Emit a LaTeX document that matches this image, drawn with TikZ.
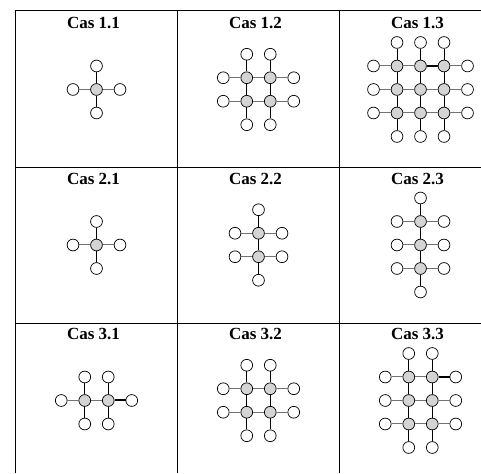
\documentclass[tikz,border=0pt]{standalone}
\usepackage{fontspec}
\setmainfont{Liberation Serif}
\usetikzlibrary{positioning}

\newcommand{\pas}{23.5}
% #1 prefix, #2 x, #3 y, #4 columns, #5 rows
\newcommand{\casgrid}[5]{%
  \foreach \i in {1,...,#4}
    \foreach \j in {1,...,#5}
      \node[hub] (#1c\i\j) at ({#2+(\i-(#4+1)/2)*\pas},{#3-(\j-(#5+1)/2)*\pas}) {};
  \foreach \i in {1,...,#4} {
    \node[leaf] (#1t\i) [above=of #1c\i1] {};
    \node[leaf] (#1b\i) [below=of #1c\i#5] {};
    \draw[vedge] (#1t\i) -- (#1c\i1);
    \draw[vedge] (#1c\i#5) -- (#1b\i);
  }
  \foreach \j in {1,...,#5} {
    \node[leaf] (#1l\j) [left=of #1c1\j] {};
    \node[leaf] (#1r\j) [right=of #1c#4\j] {};
    \draw[hedge] (#1l\j) -- (#1c1\j);
    \draw[hedge] (#1c#4\j) -- (#1r\j);
  }
  \foreach \i in {1,...,#4}
    \foreach \j in {1,...,#5} {
      \ifnum\i<#4 \pgfmathtruncatemacro\k{\i+1}\draw[hedge] (#1c\i\j) -- (#1c\k\j);\fi
      \ifnum\j<#5 \pgfmathtruncatemacro\k{\j+1}\draw[vedge] (#1c\i\j) -- (#1c\i\k);\fi
    }
}

\begin{document}
\begin{tikzpicture}[x=1pt,y=1pt,on grid,node distance=23.5pt,
  hub/.style={circle,draw,line width=0.7pt,fill=black!17,minimum size=11.8pt,inner sep=0pt},
  leaf/.style={circle,draw,line width=0.7pt,fill=white,minimum size=11.8pt,inner sep=0pt},
  hedge/.style={black!55,line width=1pt},
  vedge/.style={black,line width=0.9pt},
  strong/.style={black,line width=2pt},
  rule/.style={black,line width=0.8pt},
  title/.style={anchor=base,font=\fontsize{17}{19}\selectfont\bfseries}]

  \useasboundingbox (0,0) rectangle (481,473);

  % table
  \draw[rule] (15,0) -- (15,462.5);
  \draw[rule] (177,0) -- (177,462.5);
  \draw[rule] (339,0) -- (339,462.5);
  \draw[rule] (15,462.5) -- (481,462.5);
  \draw[rule] (15,306) -- (481,306);
  \draw[rule] (15,150) -- (481,150);

  \node[title] (t11) at (93.5,444.5) {Cas 1.1};
  \node[title] (t12) at (255.5,444.5) {Cas 1.2};
  \node[title] (t13) at (417.5,444.5) {Cas 1.3};
  \node[title] (t21) at (93.5,288.5) {Cas 2.1};
  \node[title] (t22) at (255.5,288.5) {Cas 2.2};
  \node[title] (t23) at (417.5,288.5) {Cas 2.3};
  \node[title] (t31) at (93.5,133) {Cas 3.1};
  \node[title] (t32) at (255.5,133) {Cas 3.2};
  \node[title] (t33) at (417.5,133) {Cas 3.3};

  \casgrid{A}{96.5}{383.5}{1}{1}
  \casgrid{B}{258.5}{383.5}{2}{2}
  \casgrid{C}{420.5}{383.5}{3}{3}
  \casgrid{D}{96.5}{228}{1}{1}
  \casgrid{E}{258.5}{228}{1}{2}
  \casgrid{F}{420.5}{228}{1}{3}
  \casgrid{G}{96.5}{72.5}{2}{1}
  \casgrid{H}{258.5}{72.5}{2}{2}
  \casgrid{I}{420.5}{72.5}{2}{3}

  \draw[strong] (Cc21) -- (Cc31);
  \draw[strong] (Gc21) -- (Gr1);
  \draw[strong] (Ic21) -- (Ir1);

\end{tikzpicture}
\end{document}
